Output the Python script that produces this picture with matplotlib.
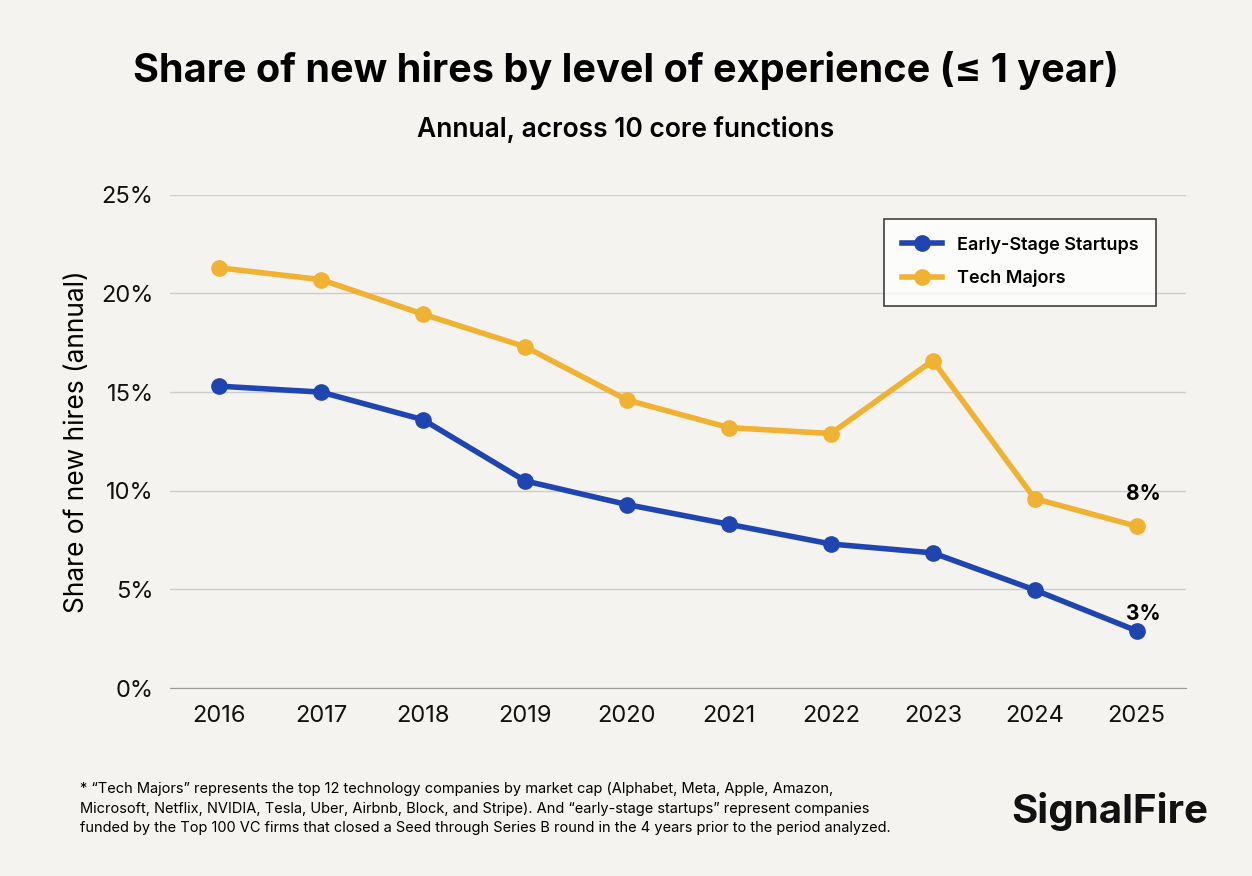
import numpy as np
import matplotlib
matplotlib.use('Agg')
import matplotlib.pyplot as plt
from matplotlib.ticker import FuncFormatter

years = [2016, 2017, 2018, 2019, 2020, 2021, 2022, 2023, 2024, 2025]
startups = [15.3, 15.0, 13.6, 10.5, 9.3, 8.3, 7.3, 6.85, 4.97, 2.9]
majors = [21.3, 20.7, 18.95, 17.3, 14.6, 13.2, 12.9, 16.6, 9.6, 8.2]

BG = '#f5f3ef'
BLUE = '#1f45b0'
GOLD = '#f0b232'

plt.rcParams['font.family'] = ['Inter', 'DejaVu Sans']

fig = plt.figure(figsize=(12.52, 8.76), dpi=100, facecolor=BG)
ax = fig.add_axes([0.136, 0.2146, 0.811, 0.563], facecolor=BG)

ax.plot(years, startups, color=BLUE, lw=4, marker='o', ms=11, label='Early-Stage Startups', zorder=3)
ax.plot(years, majors, color=GOLD, lw=4, marker='o', ms=11, label='Tech Majors', zorder=3)

ax.set_xlim(2015.52, 2025.48)
ax.set_ylim(0, 25)
ax.set_yticks([0, 5, 10, 15, 20, 25])
ax.yaxis.set_major_formatter(FuncFormatter(lambda v, p: '%d%%' % v))
ax.set_xticks(years)
ax.grid(axis='y', color='#cccccc', lw=1)
ax.set_axisbelow(True)
for s in ['top', 'right', 'left']:
    ax.spines[s].set_visible(False)
ax.spines['bottom'].set_color('#999999')
ax.tick_params(length=0, labelsize=17, pad=12, colors='#111111')
ax.set_ylabel('Share of new hires (annual)', fontsize=19, labelpad=8)

ax.annotate('8%', (2025, majors[-1]), xytext=(5, 19), textcoords='offset points',
            fontsize=15, fontweight='bold', ha='center')
ax.annotate('3%', (2025, startups[-1]), xytext=(5, 8), textcoords='offset points',
            fontsize=15, fontweight='bold', ha='center')

leg = ax.legend(loc='upper right', bbox_to_anchor=(0.98, 0.97), fontsize=13, frameon=True,
                fancybox=False, edgecolor='#111111', facecolor='white', borderpad=1.0,
                labelspacing=0.9, handlelength=2.2)
leg.get_frame().set_linewidth(1.2)
for t in leg.get_texts():
    t.set_fontweight('semibold')

fig.text(0.5, 0.906, 'Share of new hires by level of experience (≤ 1 year)', ha='center',
         fontsize=28.5, fontweight='bold')
fig.text(0.5, 0.844, 'Annual, across 10 core functions', ha='center', fontsize=19, fontweight='semibold')

fig.text(0.064, 0.077, '* \u201cTech Majors\u201d represents the top 12 technology companies by market cap (Alphabet, Meta, Apple, Amazon,\n'
         'Microsoft, Netflix, NVIDIA, Tesla, Uber, Airbnb, Block, and Stripe). And \u201cearly-stage startups\u201d represent companies\n'
         'funded by the Top 100 VC firms that closed a Seed through Series B round in the 4 years prior to the period analyzed.',
         fontsize=10.5, linespacing=1.5, va='center')
fig.text(0.965, 0.06, 'SignalFire', ha='right', fontsize=29, fontweight='bold', color='#111111')

fig.savefig('out.png', dpi=100, facecolor=BG)
